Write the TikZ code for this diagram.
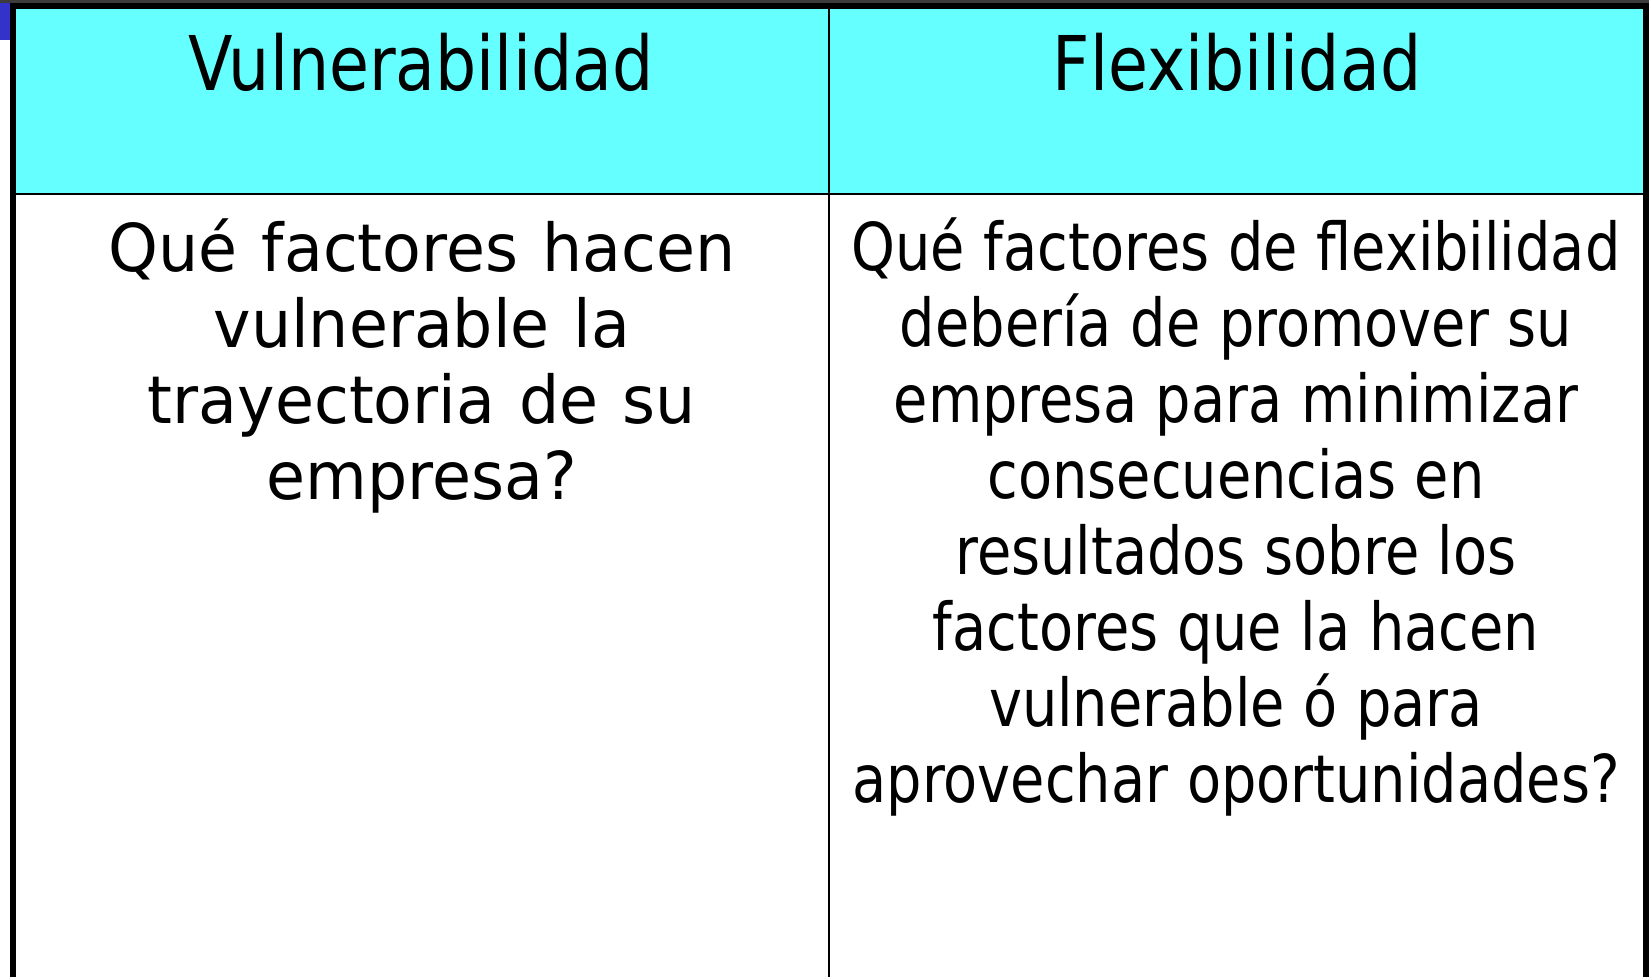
\documentclass[tikz,border=0pt]{standalone}
\usepackage{fontspec}
\usepackage[HTML]{xcolor}
\usepackage{tikz}
\usetikzlibrary{positioning}
\newfontfamily\headfont{DejaVu Sans}[FakeStretch=0.86]
\newfontfamily\leftfont{DejaVu Sans}[FakeStretch=0.96]
\newfontfamily\rightfont{DejaVu Sans}[FakeStretch=0.845]
\definecolor{headcyan}{HTML}{66FFFF}
\definecolor{cornerblue}{HTML}{3333CC}
\definecolor{stripgray}{HTML}{3C3C3C}

\begin{document}
\begin{tikzpicture}[x=1pt,y=-1pt,
  headtext/.style={inner sep=0pt,anchor=base,font={\headfont\fontsize{75.5}{86}\selectfont}},
  bodytext/.style={inner sep=0pt,anchor=base,align=center},
  rule/.style={line width=2.5pt,black}]
\useasboundingbox (0,0) rectangle (1649,977);
% frame and header band
\fill[stripgray] (0,0) rectangle (1649,3);
\fill[cornerblue] (0,3) rectangle (10,40);
\fill[headcyan] (16,9) rectangle (1643,193);
\draw[line width=6pt] (13,977) -- (13,6) -- (1646,6) -- (1646,977);
\draw[rule] (16,194) -- (1643,194);
\draw[rule] (829,9) -- (829,977);
% headings
\node[headtext] (vulhead) at (421,90) {Vulnerabilidad};
\node[headtext] (flexhead) at (1237,90) {Flexibilidad};
% questions (base = last line)
\node[bodytext,font={\leftfont\fontsize{66}{75.9}\selectfont\spaceskip=24.3pt}] (vultext) at (422,499)
{Qué factores hacen\\ vulnerable la\\ trayectoria de su\\ empresa?};
\node[bodytext,font={\rightfont\fontsize{66}{75.9}\selectfont\spaceskip=18.7pt}] (flextext) at (1236,802)
{Qué factores de flexibilidad\\ debería de promover su\\ empresa para minimizar\\ consecuencias en\\
resultados sobre los\\ factores que la hacen\\ vulnerable ó para\\ aprovechar oportunidades?};
\end{tikzpicture}
\end{document}
